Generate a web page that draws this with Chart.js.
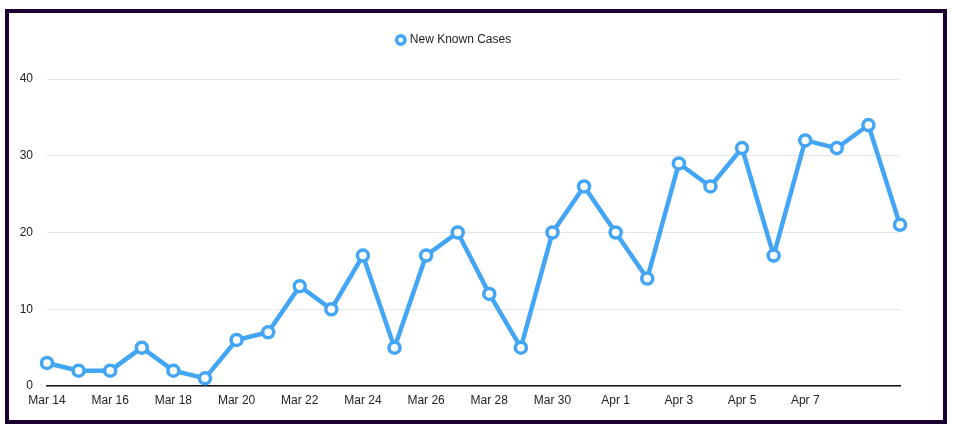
<!DOCTYPE html>
<html>
<head>
<meta charset="utf-8">
<script src="https://cdn.jsdelivr.net/npm/chart.js@4/dist/chart.umd.min.js"></script>
<style>
    html, body { margin: 0; padding: 0; background: #fff; }
    .frame {
        position: absolute; left: 5px; top: 9px;
        width: 934px; height: 407px;
        border: 4px solid #1a0033;
        background: #fff;
    }
    .frame canvas { display: block; }
</style>
</head>
<body>
<div class="frame"><canvas id="casesChart" width="934" height="407"></canvas></div>
<script>
// --- data ---
const dates = ['Mar 14', 'Mar 15', 'Mar 16', 'Mar 17', 'Mar 18', 'Mar 19', 'Mar 20', 'Mar 21',
    'Mar 22', 'Mar 23', 'Mar 24', 'Mar 25', 'Mar 26', 'Mar 27', 'Mar 28', 'Mar 29', 'Mar 30',
    'Mar 31', 'Apr 1', 'Apr 2', 'Apr 3', 'Apr 4', 'Apr 5', 'Apr 6', 'Apr 7', 'Apr 8', 'Apr 9', 'Apr 10'];
const newCases = [3, 2, 2, 5, 2, 1, 6, 7, 13, 10, 17, 5, 17, 20, 12, 5, 20, 26, 20, 14, 29, 26, 31, 17, 32, 31, 34, 21];
const xTickLabels = ['Mar 14', 'Mar 16', 'Mar 18', 'Mar 20', 'Mar 22', 'Mar 24', 'Mar 26', 'Mar 28',
    'Mar 30', 'Apr 1', 'Apr 3', 'Apr 5', 'Apr 7'];
const yTicks = [0, 10, 20, 30, 40];

Chart.defaults.font.family = '"Liberation Sans", Arial, sans-serif';
Chart.defaults.font.size = 12;
Chart.defaults.color = '#222';

const blue = 'rgb(66, 165, 245)';

// extra gap between legend and plot area
const legendGap = {
    id: 'legendGap',
    beforeInit(chart) {
        const origFit = chart.legend.fit;
        chart.legend.fit = function () {
            origFit.call(this);
            this.height += 23;
        };
    }
};

new Chart(document.getElementById('casesChart'), {
    type: 'line',
    data: {
        labels: dates,
        datasets: [{
            label: 'New Known Cases',
            data: newCases,
            borderColor: blue,
            backgroundColor: '#fff',
            borderWidth: 4.5,
            pointRadius: 5.5,
            pointBorderWidth: 3.5,
            pointBackgroundColor: '#fff',
            pointBorderColor: blue,
            tension: 0,
            fill: false,
            clip: false
        }]
    },
    options: {
        responsive: false,
        animation: false,
        events: [],
        layout: { padding: { left: 0, right: 43, top: 11, bottom: 0 } },
        plugins: {
            tooltip: { enabled: false },
            legend: {
                position: 'top',
                labels: { usePointStyle: true, boxWidth: 6, boxHeight: 6, padding: 10, color: '#222' }
            }
        },
        scales: {
            x: {
                offset: false,
                grid: { display: false, drawTicks: false },
                border: { display: true, color: '#111', width: 1.5 },
                ticks: {
                    autoSkip: false, maxRotation: 0, padding: 7,
                    callback: function (value) {
                        const lbl = this.getLabelForValue(value);
                        return xTickLabels.includes(lbl) ? lbl : '';
                    }
                },
                afterFit: (scale) => { scale.height = 34; }
            },
            y: {
                min: yTicks[0],
                max: yTicks[yTicks.length - 1],
                afterBuildTicks: (scale) => { scale.ticks = yTicks.map(v => ({ value: v })); },
                grid: { color: '#e6e6e6', drawTicks: false },
                border: { display: false },
                ticks: { padding: 14 },
                afterFit: (scale) => { scale.width = 38; }
            }
        }
    },
    plugins: [legendGap]
});
</script>
</body>
</html>
